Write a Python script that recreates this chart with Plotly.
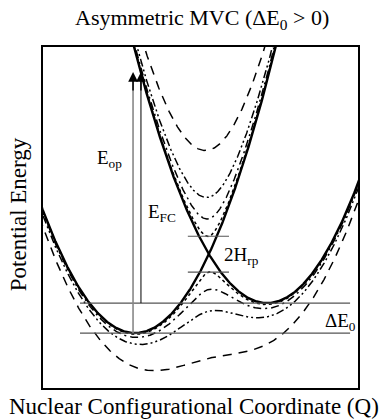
import numpy as np
import plotly.graph_objects as go

# ---- parameters (energies in units of lambda) ----
reorg_energy = 1.0                      # lambda
delta_e0 = 0.119                        # ΔE0
couplings = [0.071, 0.14, 0.226, 0.413] # H_rp of the adiabatic curve sets
coupling_dashes = ["dot", "8px,4px,2px,4px", "8px,3px,2px,3px,2px,3px", "9px,7px"]
q_range = [-0.697, 1.689]
g_range = [-0.218, 1.135]
level_q = [-0.417, 1.629]               # extent of the two horizontal reference levels
gap_q = [0.40, 0.712]                   # extent of the 2H_rp marker lines
arrow_q = [-0.015, 0.045]               # E_op and E_FC arrow positions
arrow_top = 1.036                       # energy reached by the arrows

q = np.linspace(-0.8, 1.8, 800)
g_r = reorg_energy * q ** 2
g_p = reorg_energy * (q - 1) ** 2 + delta_e0
q_cross = (reorg_energy + delta_e0) / (2 * reorg_energy)
g_cross = reorg_energy * q_cross ** 2

fig = go.Figure()

for h, d in zip(couplings, coupling_dashes):
    mean = (g_r + g_p) / 2
    root = np.sqrt(((g_p - g_r) / 2) ** 2 + h ** 2)
    for sgn in (-1, 1):
        fig.add_trace(go.Scatter(x=q, y=mean + sgn * root, mode="lines",
                                 line=dict(color="black", width=1.5, dash=d),
                                 hoverinfo="skip", showlegend=False))

for g in (g_r, g_p):
    fig.add_trace(go.Scatter(x=q, y=g, mode="lines",
                             line=dict(color="black", width=2.4),
                             hoverinfo="skip", showlegend=False))

shapes = []
for lvl in (0.0, delta_e0):
    shapes.append(dict(type="line", xref="x", yref="y", x0=level_q[0], x1=level_q[1],
                       y0=lvl, y1=lvl, line=dict(color="#555", width=1.2)))
for lvl in (g_cross - couplings[0], g_cross + couplings[0]):
    shapes.append(dict(type="line", xref="x", yref="y", x0=gap_q[0], x1=gap_q[1],
                       y0=lvl, y1=lvl, line=dict(color="#555", width=1.2)))
shapes.append(dict(type="line", xref="x", yref="y", x0=arrow_q[0], x1=arrow_q[0],
                   y0=0.0, y1=arrow_top - 0.03, line=dict(color="#888", width=1.6)))
shapes.append(dict(type="line", xref="x", yref="y", x0=arrow_q[1], x1=arrow_q[1],
                   y0=delta_e0, y1=arrow_top - 0.03, line=dict(color="black", width=1)))

font = "Liberation Serif, Times New Roman, serif"
ann = []
for xq in arrow_q:
    ann.append(dict(x=xq, y=arrow_top, ax=xq, ay=arrow_top - 0.08, xref="x", yref="y",
                    axref="x", ayref="y", showarrow=True, arrowhead=2, arrowsize=1.3,
                    arrowwidth=1.5, arrowcolor="black", text=""))

labels = [("E<sub>op</sub>", -0.19, 0.69), ("E<sub>FC</sub>", 0.205, 0.476),
          ("2H<sub>rp</sub>", 0.803, 0.306), ("ΔE<sub>0</sub>", 1.553, 0.044)]
for t, xq, yg in labels:
    ann.append(dict(x=xq, y=yg, xref="x", yref="y", text=t, showarrow=False,
                    xanchor="center", yanchor="middle",
                    font=dict(family=font, size=19, color="black")))

ann.append(dict(x=0.505, y=1.082, xref="paper", yref="paper", showarrow=False,
                xanchor="center", yanchor="middle",
                text="Asymmetric MVC (ΔE<sub>0</sub> &gt; 0)",
                font=dict(family=font, size=22, color="black")))
ann.append(dict(x=0.478, y=-0.053, xref="paper", yref="paper", showarrow=False,
                xanchor="center", yanchor="middle",
                text="Nuclear Configurational Coordinate (Q)",
                font=dict(family=font, size=23, color="black")))
ann.append(dict(x=-0.079, y=0.51, xref="paper", yref="paper", showarrow=False,
                xanchor="center", yanchor="middle",
                text="Potential Energy", textangle=-90,
                font=dict(family=font, size=23, color="black")))

axis = dict(showgrid=False, zeroline=False, showticklabels=False, ticks="",
            showline=True, mirror=True, linecolor="black", linewidth=1.5)
fig.update_layout(
    width=388, height=419,
    margin=dict(l=43, r=30, t=47, b=31),
    plot_bgcolor="white", paper_bgcolor="white",
    xaxis=dict(range=q_range, **axis),
    yaxis=dict(range=g_range, **axis),
    shapes=shapes, annotations=ann, showlegend=False,
)
fig.write_html("out.html")
